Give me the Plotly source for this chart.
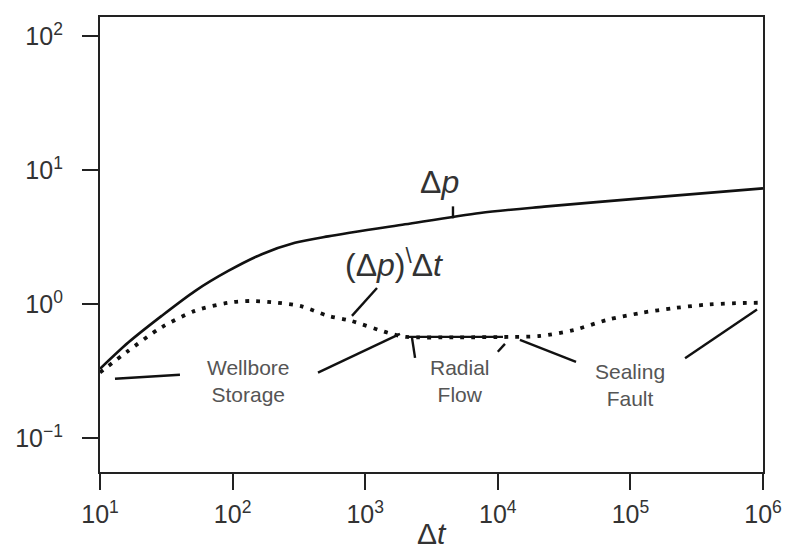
import plotly.graph_objects as go

# ---- data (log10 values) ----
dp_logx = [1.0, 1.213, 1.465, 1.716, 1.967, 2.22, 2.47, 2.72, 3.30, 3.866, 4.35, 5.08, 6.0]
dp_logy = [-0.48, -0.284, -0.085, 0.10, 0.25, 0.375, 0.46, 0.508, 0.598, 0.683, 0.73, 0.792, 0.866]

der_logx = [1.0, 1.213, 1.465, 1.716, 1.967, 2.14, 2.34, 2.51, 2.72, 2.885, 3.19, 3.31, 3.7, 4.09,
            4.32, 4.575, 4.828, 5.08, 5.336, 5.593, 5.847, 6.0]
der_logy = [-0.507, -0.346, -0.17, -0.048, 0.013, 0.026, 0.013, -0.011, -0.085, -0.12, -0.217, -0.242,
            -0.245, -0.242, -0.235, -0.19, -0.114, -0.063, -0.026, 0.0, 0.011, 0.013]

# leader / bracket lines (log10 x pairs, log10 y pairs)
leaders = [
    ([1.113, 1.603], [-0.554, -0.524]),   # wellbore storage, left
    ([2.644, 3.262], [-0.509, -0.219]),   # wellbore storage, right
    ([3.315, 4.039], [-0.242, -0.242]),   # radial flow bracket
    ([3.353, 3.376], [-0.249, -0.398]),   # radial flow left tick
    ([4.054, 4.0], [-0.294, -0.353]),     # radial flow right tick
    ([4.167, 4.590], [-0.264, -0.428]),   # sealing fault, left
    ([5.412, 5.955], [-0.402, -0.038]),   # sealing fault, right
    ([3.089, 2.900], [0.123, -0.085]),    # derivative label leader
    ([3.662, 3.662], [0.732, 0.643]),     # delta p label tick
]

labels = ["Δ<i>p</i>", "(Δ<i>p</i>)<sup>\\</sup>Δ<i>t</i>", "Wellbore<br>Storage", "Radial<br>Flow", "Sealing<br>Fault"]
label_logx = [3.564, 3.217, 2.116, 3.715, 5.0]
label_logy = [0.911, 0.309, -0.569, -0.569, -0.598]

xtick_vals = [1e1, 1e2, 1e3, 1e4, 1e5, 1e6]
xtick_text = ["10<sup>1</sup>", "10<sup>2</sup>", "10<sup>3</sup>", "10<sup>4</sup>", "10<sup>5</sup>", "10<sup>6</sup>"]
ytick_vals = [1e-1, 1e0, 1e1, 1e2]
ytick_text = ["10<sup>−1</sup>", "10<sup>0</sup>", "10<sup>1</sup>", "10<sup>2</sup>"]

FONT = "Liberation Sans, Arial, sans-serif"

fig = go.Figure()

fig.add_trace(go.Scatter(
    x=[10 ** v for v in dp_logx], y=[10 ** v for v in dp_logy],
    mode="lines", line=dict(color="#111", width=2.6, shape="spline", smoothing=0.8),
    hoverinfo="skip", showlegend=False))

fig.add_trace(go.Scatter(
    x=[10 ** v for v in der_logx], y=[10 ** v for v in der_logy],
    mode="lines", line=dict(color="#111", width=3.8, dash="3.8px,7.2px", shape="spline", smoothing=0.8),
    hoverinfo="skip", showlegend=False))

for lx, ly in leaders:
    fig.add_trace(go.Scatter(
        x=[10 ** v for v in lx], y=[10 ** v for v in ly],
        mode="lines", line=dict(color="#111", width=2.4),
        hoverinfo="skip", showlegend=False))

sizes = [32, 32, 21, 21, 21]
colors = ["#333", "#333", "#555", "#555", "#555"]
for t, lx, ly, s, c in zip(labels, label_logx, label_logy, sizes, colors):
    fig.add_annotation(x=lx, y=ly, xref="x", yref="y", text=t, showarrow=False,
                       font=dict(family=FONT, size=s, color=c),
                       xanchor="center", yanchor="middle")

fig.add_annotation(x=0.5, y=-0.135, xref="paper", yref="paper", text="Δ<i>t</i>", showarrow=False,
                   font=dict(family=FONT, size=30, color="#333"), borderpad=0,
                   xanchor="center", yanchor="middle")

axis_common = dict(
    showgrid=False, zeroline=False, showline=True, linecolor="#222", linewidth=2.2,
    mirror=True, ticks="outside", ticklen=16, tickwidth=2.2, tickcolor="#222",
    tickfont=dict(family=FONT, size=25, color="#333"),
)

fig.update_xaxes(type="log", range=[1, 6], tickvals=xtick_vals, ticktext=xtick_text,
                 ticklabelstandoff=3, **axis_common)
fig.update_yaxes(type="log", range=[-1.25, 2.145], tickvals=ytick_vals, ticktext=ytick_text,
                 ticklabelstandoff=14, **axis_common)

# page body adds an 8px margin, so the figure is sized to fit the 790x552 window
fig.update_layout(
    width=782, height=544,
    margin=dict(l=92, r=27, t=7, b=80),
    paper_bgcolor="white", plot_bgcolor="white",
)

fig.write_html("out.html")
